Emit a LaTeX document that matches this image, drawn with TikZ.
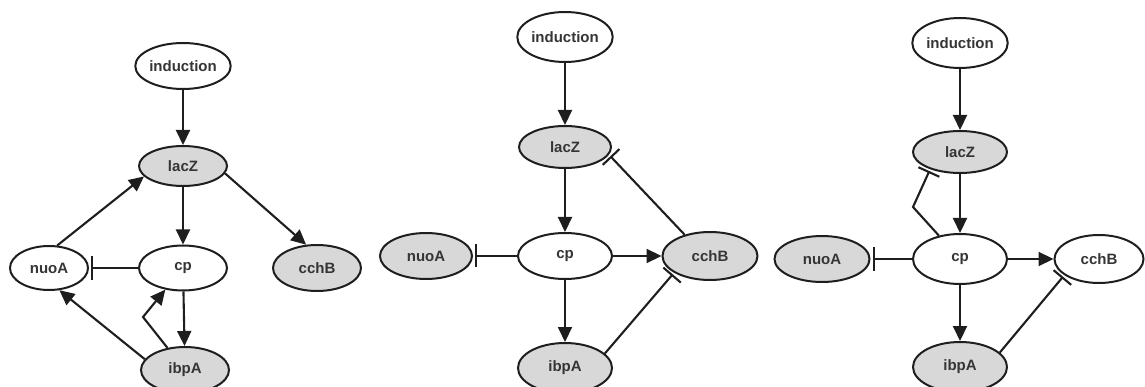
\documentclass[tikz,border=0pt]{standalone}
\usepackage{fontspec}
\setmainfont{Liberation Sans}
\usetikzlibrary{shapes.geometric,arrows.meta}
\definecolor{nodegray}{HTML}{D8D8D8}
\definecolor{ink}{HTML}{1E1E1E}
\tikzset{
  gene/.style={ellipse,draw=ink,line width=2pt,inner sep=0pt,
    font=\fontsize{15}{17}\selectfont\bfseries,text=ink!90!white},
  wgene/.style={gene,fill=white},
  ggene/.style={gene,fill=nodegray},
  act/.style={draw=ink,line width=2.1pt,-{Triangle[length=15pt,width=14pt]}},
  inh/.style={draw=ink,line width=2.1pt,-{Bar[width=23pt]},shorten >=2pt},
}
\begin{document}
\begin{tikzpicture}[x=1pt,y=-1pt]
\useasboundingbox (0,0) rectangle (1145,387);
% ---------- panel 1 ----------
\node[wgene,minimum width=90pt,minimum height=46pt] (ind1) at (183,66) {induction};
\node[ggene,minimum width=88pt,minimum height=40pt] (lac1) at (183,166) {lacZ};
\node[wgene,minimum width=88pt,minimum height=45pt] (cp1) at (183,268) {cp};
\node[wgene,minimum width=78pt,minimum height=44pt] (nuo1) at (49,268) {nuoA};
\node[ggene,minimum width=88pt,minimum height=46pt] (cch1) at (317,268) {cchB};
\node[ggene,minimum width=88pt,minimum height=46pt] (ibp1) at (185,370) {ibpA};
\coordinate (k1) at (143,317);
\draw[act] (ind1) -- (lac1);
\draw[act] (lac1) -- (cp1);
\draw[act] (lac1.-10) -- (cch1.115);
\draw[act] (nuo1.70) -- (lac1.195);
\draw[inh] (cp1) -- (nuo1);
\draw[act] (cp1) -- (ibp1);
\draw[act] (ibp1.165) -- (nuo1.295);
\draw[act] (ibp1) -- (k1) -- (cp1);
% ---------- panel 2 ----------
\node[wgene,minimum width=94pt,minimum height=50pt] (ind2) at (565,37) {induction};
\node[ggene,minimum width=92pt,minimum height=42pt] (lac2) at (565,147) {lacZ};
\node[wgene,minimum width=94pt,minimum height=46pt] (cp2) at (565,256) {cp};
\node[ggene,minimum width=92pt,minimum height=46pt] (nuo2) at (426,256) {nuoA};
\node[ggene,minimum width=95pt,minimum height=48pt] (cch2) at (710,256) {cchB};
\node[ggene,minimum width=94pt,minimum height=50pt] (ibp2) at (565,368) {ibpA};
\draw[act] (ind2) -- (lac2);
\draw[act] (lac2) -- (cp2);
\draw[inh] (cp2) -- (nuo2);
\draw[act] (cp2) -- (cch2);
\draw[act] (cp2) -- (ibp2);
\draw[inh] (cch2.140) -- (lac2.-10);
\draw[inh] (ibp2.20) -- (cch2.205);
% ---------- panel 3 ----------
\node[wgene,minimum width=94pt,minimum height=50pt] (ind3) at (960,43) {induction};
\node[ggene,minimum width=94pt,minimum height=42pt] (lac3) at (960,152) {lacZ};
\node[wgene,minimum width=94pt,minimum height=50pt] (cp3) at (960,259) {cp};
\node[ggene,minimum width=95pt,minimum height=46pt] (nuo3) at (822,259) {nuoA};
\node[wgene,minimum width=89pt,minimum height=48pt] (cch3) at (1099,259) {cchB};
\node[ggene,minimum width=94pt,minimum height=50pt] (ibp3) at (960,367) {ibpA};
\coordinate (k3) at (913,207);
\draw[act] (ind3) -- (lac3);
\draw[act] (lac3) -- (cp3);
\draw[inh] (cp3) -- (nuo3);
\draw[act] (cp3) -- (cch3);
\draw[act] (cp3) -- (ibp3);
\draw[inh] (cp3) -- (k3) -- (lac3.210);
\draw[inh] (ibp3.20) -- (cch3.205);
\end{tikzpicture}
\end{document}
